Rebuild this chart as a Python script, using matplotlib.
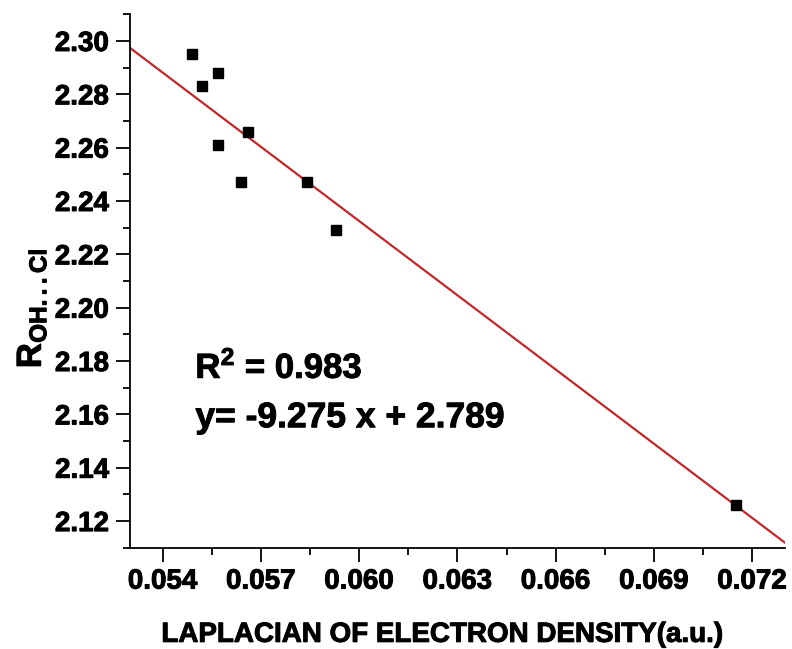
import numpy as np
import matplotlib
matplotlib.use('Agg')
from matplotlib import pyplot as plt
from matplotlib.ticker import MultipleLocator, FormatStrFormatter
import matplotlib.patheffects as pe

plt.rcParams['font.family'] = ['Liberation Sans', 'DejaVu Sans']
plt.rcParams['font.weight'] = 'bold'
plt.rcParams['mathtext.fontset'] = 'custom'
plt.rcParams['mathtext.rm'] = 'Liberation Sans:bold'
plt.rcParams['mathtext.bf'] = 'Liberation Sans:bold'
plt.rcParams['mathtext.it'] = 'Liberation Sans:bold'

# laplacian of electron density (a.u.) vs R(OH...Cl)
laplacian = [0.0549, 0.0552, 0.0557, 0.0557, 0.0566, 0.0564, 0.0584, 0.0593, 0.0715]
r_ohcl = [2.295, 2.283, 2.288, 2.261, 2.266, 2.247, 2.247, 2.229, 2.126]

slope = -9.275
intercept = 2.789
r2 = 0.983

heavy = [pe.withStroke(linewidth=0.7, foreground='black')]

fig = plt.figure(figsize=(7.92, 6.49), dpi=100)
ax = fig.add_axes([0.164, 0.156, 0.827, 0.822])

xfit = np.array([0.053, 0.073])
ax.plot(xfit, slope * xfit + intercept, color='#c0282a', lw=1.6, zorder=2)
ax.plot(laplacian, r_ohcl, 's', color='black', ms=7.5, zorder=3)

ax.set_xlim(0.053, 0.073)
ax.set_ylim(2.110, 2.310)

ax.xaxis.set_major_locator(MultipleLocator(0.003))
ax.xaxis.set_minor_locator(MultipleLocator(0.0015))
ax.yaxis.set_major_locator(MultipleLocator(0.02))
ax.yaxis.set_minor_locator(MultipleLocator(0.01))
ax.xaxis.set_major_formatter(FormatStrFormatter('%.3f'))
ax.yaxis.set_major_formatter(FormatStrFormatter('%.2f'))

ax.spines['top'].set_visible(False)
ax.spines['right'].set_visible(False)
for s in ['left', 'bottom']:
    ax.spines[s].set_linewidth(1.3)

ax.tick_params(which='major', direction='out', length=10, width=1.3, labelsize=20, pad=5)
ax.tick_params(which='minor', direction='out', length=5, width=1.3)
for lab in ax.get_xticklabels() + ax.get_yticklabels():
    lab.set_fontweight('bold')
    lab.set_path_effects(heavy)

ax.text(0.0550, 2.1737, f'R$^{{\\mathbf{{2}}}}$ = {r2:.3f}', fontsize=25, fontweight='bold',
        path_effects=heavy)
ax.text(0.0550, 2.1552, f'y= {slope:.3f} x + {intercept:.3f}', fontsize=25.5, fontweight='bold',
        path_effects=heavy)

fig.text(0.558, 0.011, 'LAPLACIAN OF ELECTRON DENSITY(a.u.)', ha='center', va='baseline',
         fontsize=20, fontweight='bold', path_effects=heavy)
fig.text(0.040, 0.525, r'$\mathbf{R}_{\mathbf{OH...Cl}}$', rotation=90, ha='center', va='center',
         fontsize=25, path_effects=heavy)

fig.savefig('out.png', dpi=100)
